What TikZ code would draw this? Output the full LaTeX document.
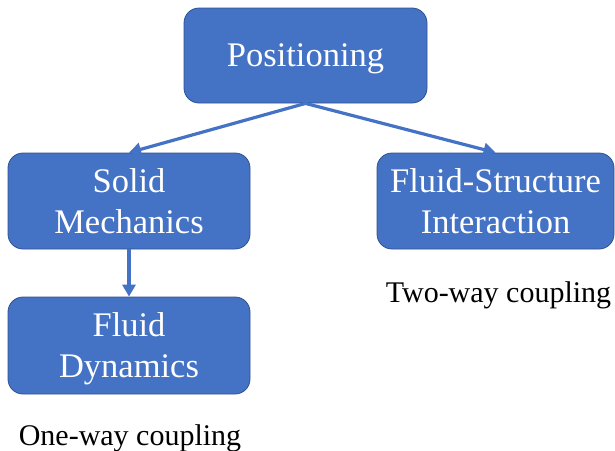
\documentclass[tikz,border=0pt]{standalone}
\usepackage{fontspec}
\setmainfont{Liberation Serif}
\usetikzlibrary{arrows.meta}
\definecolor{boxblue}{HTML}{4472C4}
\definecolor{edgeblue}{HTML}{2F528F}
\tikzset{
  box/.style={draw=edgeblue, line width=0.8pt, fill=boxblue, rounded corners=15pt,
    text=white, align=center, inner sep=0pt, text depth=0pt,
    font=\fontsize{34.5}{41}\selectfont},
  conn/.style={draw=boxblue, line width=3.2pt,
    -{Triangle[length=12pt,width=13pt]}},
  note/.style={font=\fontsize{30}{34}\selectfont, anchor=base, inner sep=0pt}
}
\begin{document}
\begin{tikzpicture}[x=1pt,y=-1pt]
\useasboundingbox (0,0) rectangle (615,450);
\node[box, minimum width=243pt, minimum height=95pt] (pos) at (305.5,55.5) {Positioning};
\node[box, minimum width=242pt, minimum height=96pt] (sm) at (129,201) {Solid\\Mechanics};
\node[box, minimum width=237pt, minimum height=96pt] (fsi) at (495.5,201) {Fluid-Structure\\Interaction};
\node[box, minimum width=242pt, minimum height=97pt] (fd) at (129,345.5) {Fluid\\Dynamics};
\draw[conn] (pos.south) -- (sm.north);
\draw[conn] (pos.south) -- (fsi.north);
\draw[conn] (sm.south) -- (fd.north);
\node[note] (two) at (498.5,302) {Two-way coupling};
\node[note] (one) at (130,445) {One-way coupling};
\end{tikzpicture}
\end{document}
